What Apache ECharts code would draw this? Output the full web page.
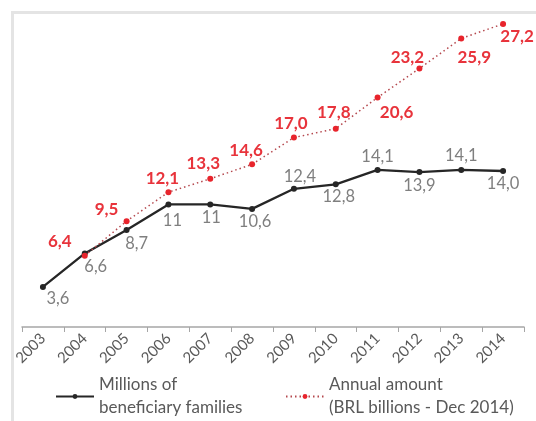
<!DOCTYPE html>
<html><head><meta charset="utf-8">
<script src="https://cdn.jsdelivr.net/npm/echarts@6/dist/echarts.min.js"></script>
<style>html,body{margin:0;padding:0;background:#fff}#c{width:536px;height:421px}</style>
</head><body><div id="c"></div><script>
const years = ['2003','2004','2005','2006','2007','2008','2009','2010','2011','2012','2013','2014'];
const families = [3.6, 6.6, 8.7, 11, 11, 10.6, 12.4, 12.8, 14.1, 13.9, 14.1, 14.0];
const familiesLabels = ['3,6','6,6','8,7','11','11','10,6','12,4','12,8','14,1','13,9','14,1','14,0'];
const amount = [null, 6.4, 9.5, 12.1, 13.3, 14.6, 17.0, 17.8, 20.6, 23.2, 25.9, 27.2];
const amountLabels = ['','6,4','9,5','12,1','13,3','14,6','17,0','17,8','20,6','23,2','25,9','27,2'];
const seriesNames = ['Millions of beneficiary families', 'Annual amount (BRL billions - Dec 2014)'];
const legendLines = {
  'Millions of beneficiary families': 'Millions of\nbeneficiary families',
  'Annual amount (BRL billions - Dec 2014)': 'Annual amount\n(BRL billions - Dec 2014)'
};

// label placement (styling only)
const famOffsets = [[15,12],[11,13],[10,14],[4,16],[1,13],[3,13],[6,-12],[3,12],[0,-13],[0,14],[0,-14],[0,13]];
const amtOffsets = [[0,0],[-25,-14],[-20,-12],[-6,-14],[-7,-15],[-6,-14],[-3,-14],[-2,-16],[19,15],[-12,-11],[13,19],[14,13]];

const chart = echarts.init(document.getElementById('c'), null, {renderer:'canvas'});
const FONT = 'Lato';

function mk(values, labels, offs, color, weight, size) {
  return values.map((v, i) => ({
    value: v,
    label: {
      show: v != null,
      position: 'inside',
      offset: offs[i],
      formatter: labels[i],
      color: color,
      fontFamily: FONT,
      fontSize: size,
      fontWeight: weight,
      align: 'center',
      verticalAlign: 'middle'
    }
  }));
}

const legendText = {fontFamily: FONT, fontSize: 17, color: '#595959', lineHeight: 23, padding: [23,0,0,0]};

chart.setOption({
  animation: false,
  backgroundColor: '#fff',
  graphic: [{
    type: 'rect', left: 10, top: 10, z: -1,
    shape: {x: 0, y: 0, width: 700, height: 600},
    style: {fill: 'none', stroke: '#e4e4e4', lineWidth: 3}
  }],
  grid: {left: 22, right: 12, top: 15, bottom: 94, containLabel: false},
  legend: [
    {data: [seriesNames[0]], left: 55, top: 362, padding: 0, itemWidth: 38, itemHeight: 6,
     selectedMode: false, formatter: n => legendLines[n], textStyle: legendText},
    {data: [seriesNames[1]], left: 285, top: 362, padding: 0, itemWidth: 38, itemHeight: 6,
     selectedMode: false, formatter: n => legendLines[n], textStyle: legendText}
  ],
  xAxis: {
    type: 'category', data: years, boundaryGap: true,
    axisLine: {lineStyle: {color: '#a6a6a6', width: 1.5}},
    axisTick: {show: true, length: 5, lineStyle: {color: '#a6a6a6'}},
    axisLabel: {interval: 0, rotate: 45, margin: 9, color: '#595959', fontFamily: FONT, fontSize: 15}
  },
  yAxis: {
    type: 'value', min: 0, max: 28, show: false, splitLine: {show: false}
  },
  series: [
    {
      name: seriesNames[0], type: 'line', data: mk(families, familiesLabels, famOffsets, '#7f7f7f', 'normal', 16.5),
      symbol: 'circle', symbolSize: 6, z: 2,
      lineStyle: {color: '#262626', width: 2.3},
      itemStyle: {color: '#262626'}
    },
    {
      name: seriesNames[1], type: 'line', data: mk(amount, amountLabels, amtOffsets, '#e8333b', 'bold', 17),
      symbol: 'circle', symbolSize: 6, z: 3, connectNulls: false,
      lineStyle: {color: '#b5484e', width: 1.5, type: [1.5, 3]},
      itemStyle: {color: '#e8242c'}
    }
  ]
});
</script></body></html>
